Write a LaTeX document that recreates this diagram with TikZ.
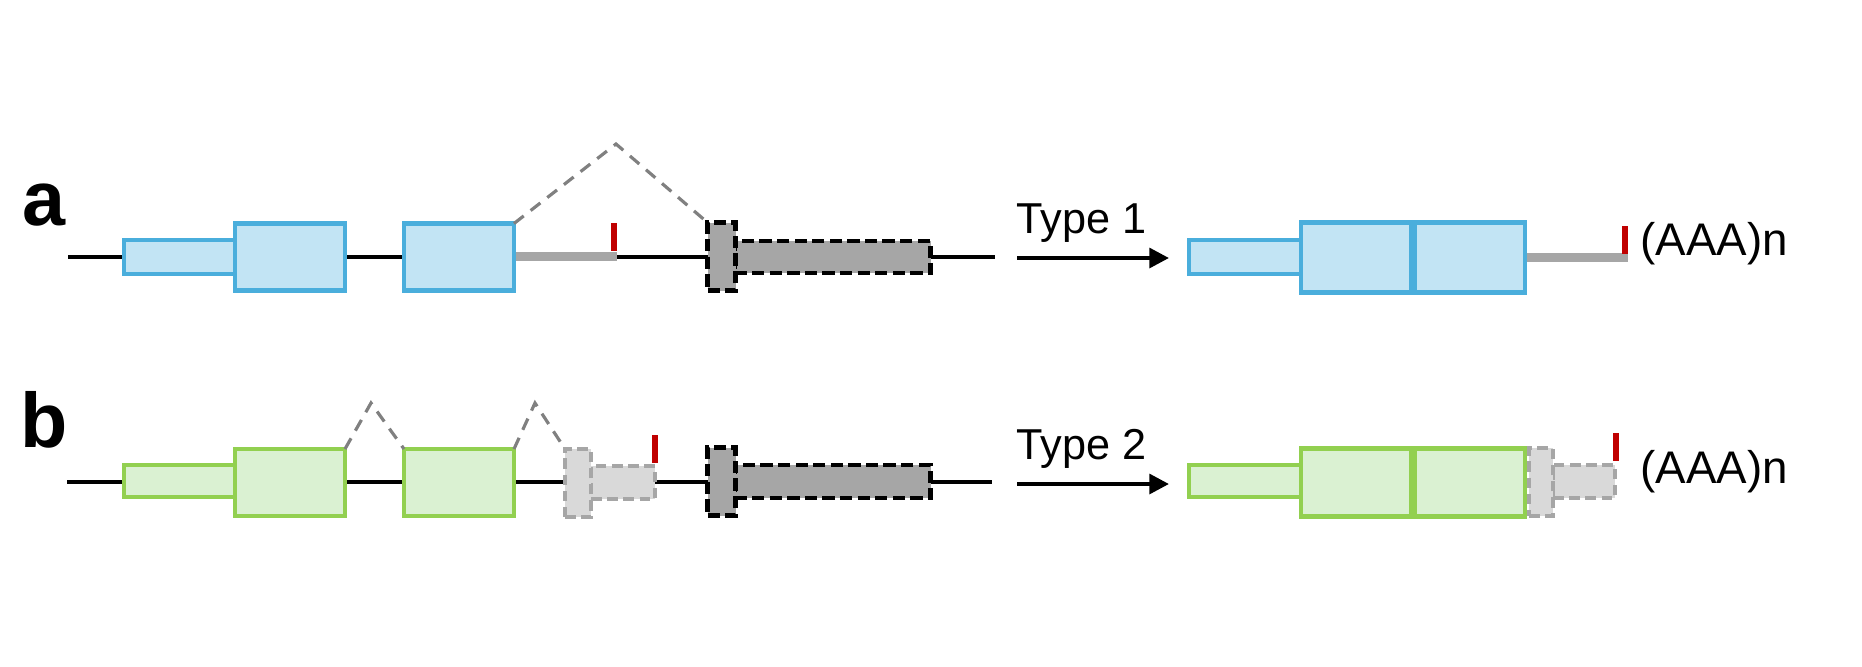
\documentclass[tikz,border=0pt]{standalone}
\usepackage{fontspec}
\setmainfont{Liberation Sans}
\usetikzlibrary{arrows.meta}
\definecolor{bstroke}{HTML}{4AAEDC}
\definecolor{bfill}{HTML}{C2E4F4}
\definecolor{gstroke}{HTML}{92D050}
\definecolor{gfill}{HTML}{DAF1D2}
\definecolor{dgray}{HTML}{A6A6A6}
\definecolor{lgray}{HTML}{D9D9D9}
\definecolor{cgray}{HTML}{808080}
\definecolor{rtick}{HTML}{C00000}
\begin{document}
\begin{tikzpicture}[x=0.01cm,y=-0.01cm,
 sz/.style 2 args={minimum width=#1*0.01cm, minimum height=#2*0.01cm},
 ex/.style={rectangle, inner sep=0pt, outer sep=0pt},
 bluebox/.style={ex, draw=bstroke, fill=bfill, line width=1.2pt},
 greenbox/.style={ex, draw=gstroke, fill=gfill, line width=1.2pt},
 darkbox/.style={ex, draw=black, fill=dgray, line width=1.4pt, dash pattern=on 3.5pt off 1.5pt},
 lightbox/.style={ex, draw=dgray, fill=lgray, line width=1.2pt, dash pattern=on 3pt off 1.6pt},
 bar/.style={ex, fill=dgray},
 tick/.style={ex, fill=rtick},
 backbone/.style={line width=0.9pt, black},
 intron/.style={cgray, line width=0.9pt, dash pattern=on 3.5pt off 2.5pt},
 arr/.style={line width=1.2pt, -{Triangle[length=5.6pt,width=5.6pt]}},
 lbl/.style={inner sep=0pt, anchor=base west, font=\fontsize{12.3}{14}\selectfont},
 tail/.style={inner sep=0pt, anchor=base west, font=\fontsize{13}{15}\selectfont},
 panel/.style={inner sep=0pt, anchor=base west, font=\fontsize{22}{26}\selectfont\bfseries},
]
\useasboundingbox (0,0) rectangle (1862,666);

% ---------------- row a ----------------
\node[panel] (la) at (22,225) {a};
\coordinate (bbaS) at (68,257);
\coordinate (bbaE) at (995,257);
\draw[backbone] (bbaS) -- (bbaE);

\node[bluebox, sz={111}{34}] (a1) at (179.5,257) {};
\node[bluebox, sz={110}{67}] (a2) at (290,257) {};
\node[bluebox, sz={110}{67}] (a3) at (459,257) {};
\node[bar, sz={101}{9}] (abar) at (566.5,256) {};
\node[tick, sz={6}{28}] (atick) at (614,237) {};
\node[darkbox, sz={196}{32}] (ad2) at (832.5,257) {};
\node[darkbox, sz={28}{68}] (ad1) at (721.5,256.5) {};
\coordinate (pa) at (616,144);
\draw[intron] (a3.north east) -- (pa) -- (ad1.north west);

\coordinate (arAS) at (1017,258);
\coordinate (arAE) at (1169,258);
\draw[arr] (arAS) -- (arAE);
\node[lbl] (ta) at (1016,233) {Type 1};

\node[bluebox, sz={112}{34}] (ra1) at (1245,257) {};
\node[bluebox, sz={110}{70}] (ra2) at (1356,257.5) {};
\node[bluebox, sz={110}{70}] (ra3) at (1470,257.5) {};
\node[bar, sz={101}{9}] (rabar) at (1577.5,257.5) {};
\node[tick, sz={6}{28}] (ratick) at (1625,239.5) {};
\node[tail] (aaa) at (1640,255) {(AAA)n};

% ---------------- row b ----------------
\node[panel] (lb) at (20,447) {b};
\coordinate (bbbS) at (67,482);
\coordinate (bbbE) at (992,482);
\draw[backbone] (bbbS) -- (bbbE);

\node[greenbox, sz={111}{32}] (b1) at (179.5,481) {};
\node[greenbox, sz={110}{67}] (b2) at (290,482.5) {};
\node[greenbox, sz={110}{67}] (b3) at (459,482.5) {};
\node[lightbox, sz={64}{33}] (bl2) at (623,482.5) {};
\node[lightbox, sz={26}{68}] (bl1) at (578,483) {};
\node[tick, sz={6}{28}] (btick) at (655,449) {};
\node[darkbox, sz={196}{33}] (bd2) at (832.5,481.5) {};
\node[darkbox, sz={28}{68}] (bd1) at (721.5,481.5) {};
\coordinate (pb1) at (371,403);
\coordinate (pb2) at (535,403);
\draw[intron] (b2.north east) -- (pb1) -- (b3.north west);
\draw[intron] (b3.north east) -- (pb2) -- (bl1.north west);

\coordinate (arBS) at (1017,484);
\coordinate (arBE) at (1169,484);
\draw[arr] (arBS) -- (arBE);
\node[lbl] (tb) at (1016,459) {Type 2};

\node[greenbox, sz={112}{32}] (rb1) at (1245,481) {};
\node[greenbox, sz={110}{68}] (rb2) at (1356,482.5) {};
\node[greenbox, sz={110}{68}] (rb3) at (1470,482.5) {};
\node[lightbox, sz={62}{33}] (rbl2) at (1584,481.5) {};
\node[lightbox, sz={24}{68}] (rbl1) at (1541,482) {};
\node[tick, sz={6}{28}] (rbtick) at (1616,447) {};
\node[tail] (bbb) at (1640,483) {(AAA)n};
\end{tikzpicture}
\end{document}
